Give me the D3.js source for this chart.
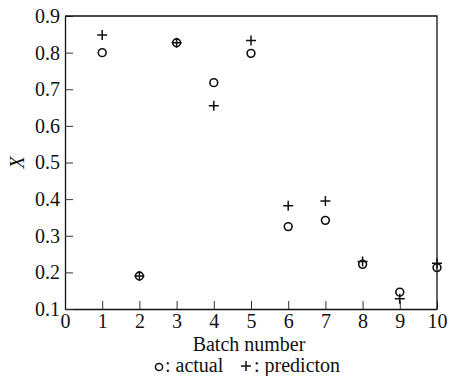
<!DOCTYPE html>
<html>
<head>
<meta charset="utf-8">
<script src="https://cdn.jsdelivr.net/npm/d3@7"></script>
<style>
  body { margin: 0; background: #fff; }
  text { font-family: "Liberation Serif", "Times New Roman", serif; fill: #111; }
</style>
</head>
<body>
<div id="chart"></div>
<script>
const width = 449;
const height = 376;
const margin = { top: 16, right: 12, bottom: 67, left: 65 };

const batches = [1, 2, 3, 4, 5, 6, 7, 8, 9, 10];
const actual = [0.800, 0.190, 0.827, 0.718, 0.798, 0.325, 0.342, 0.222, 0.146, 0.213];
const prediction = [0.848, 0.190, 0.827, 0.655, 0.833, 0.382, 0.395, 0.230, 0.128, 0.225];
const xTicks = [0, 1, 2, 3, 4, 5, 6, 7, 8, 9, 10];
const yTicks = [0.1, 0.2, 0.3, 0.4, 0.5, 0.6, 0.7, 0.8, 0.9];

const svg = d3.select('#chart')
    .append('svg')
    .attr('width', width)
    .attr('height', height);

const xScale = d3.scaleLinear()
    .domain([0, 10])
    .range([margin.left, width - margin.right]);

const yScale = d3.scaleLinear()
    .domain([0.1, 0.9])
    .range([height - margin.bottom, margin.top]);

const xAxis = d3.axisBottom(xScale)
    .tickValues(xTicks)
    .tickSizeInner(-8)
    .tickSizeOuter(0)
    .tickPadding(5)
    .tickFormat(d3.format('d'));

const yAxis = d3.axisLeft(yScale)
    .tickValues(yTicks)
    .tickSizeInner(-8)
    .tickSizeOuter(0)
    .tickPadding(5)
    .tickFormat(d3.format('.1f'));

const gx = svg.append('g')
    .attr('transform', `translate(0, ${height - margin.bottom})`)
    .call(xAxis);

const gy = svg.append('g')
    .attr('transform', `translate(${margin.left}, 0)`)
    .call(yAxis);

[gx, gy].forEach(g => {
    g.attr('font-family', '"Liberation Serif", serif').attr('font-size', 20);
    g.selectAll('line').attr('stroke', '#333').attr('stroke-width', 1);
    g.select('.domain').attr('stroke', '#111').attr('stroke-width', 1.3);
});
gx.selectAll('text').attr('dy', '0.68em');

// frame top and right
svg.append('path')
    .attr('d', `M${xScale(0)},${yScale(0.9)}H${xScale(10)}V${yScale(0.1)}`)
    .attr('fill', 'none')
    .attr('stroke', '#111')
    .attr('stroke-width', 1.3);

// actual points
svg.selectAll('.actual')
    .data(batches)
    .enter()
    .append('circle')
    .attr('class', 'actual')
    .attr('cx', d => xScale(d))
    .attr('cy', (d, i) => yScale(actual[i]))
    .attr('r', 3.9)
    .attr('fill', 'none')
    .attr('stroke', '#111')
    .attr('stroke-width', 1.6);

// prediction points
svg.selectAll('.pred')
    .data(batches)
    .enter()
    .append('path')
    .attr('class', 'pred')
    .attr('d', (d, i) => {
        const x = xScale(d), y = yScale(prediction[i]);
        return `M${x - 5},${y}H${x + 5}M${x},${y - 5}V${y + 5}`;
    })
    .attr('stroke', '#111')
    .attr('stroke-width', 1.5);

svg.append('text')
    .attr('x', (xScale(0) + xScale(10)) / 2 - 2)
    .attr('y', 351)
    .attr('text-anchor', 'middle')
    .style('font-size', '20px')
    .text('Batch number');

svg.append('text')
    .attr('transform', `translate(24, ${yScale(0.5)}) rotate(-90)`)
    .attr('text-anchor', 'middle')
    .style('font-size', '20px')
    .style('font-style', 'italic')
    .text('X');

const legend = svg.append('g')
    .attr('transform', 'translate(155, 372)');

legend.append('circle')
    .attr('cx', 4)
    .attr('cy', -5)
    .attr('r', 3.6)
    .attr('fill', 'none')
    .attr('stroke', '#111')
    .attr('stroke-width', 1.5);

legend.append('text')
    .attr('x', 10)
    .attr('y', 0)
    .style('font-size', '20px')
    .text(': actual');

legend.append('path')
    .attr('d', 'M86,-6H96M91,-11V-1')
    .attr('stroke', '#111')
    .attr('stroke-width', 1.5);

legend.append('text')
    .attr('x', 99)
    .attr('y', 0)
    .style('font-size', '20px')
    .text(': predicton');
</script>
</body>
</html>
